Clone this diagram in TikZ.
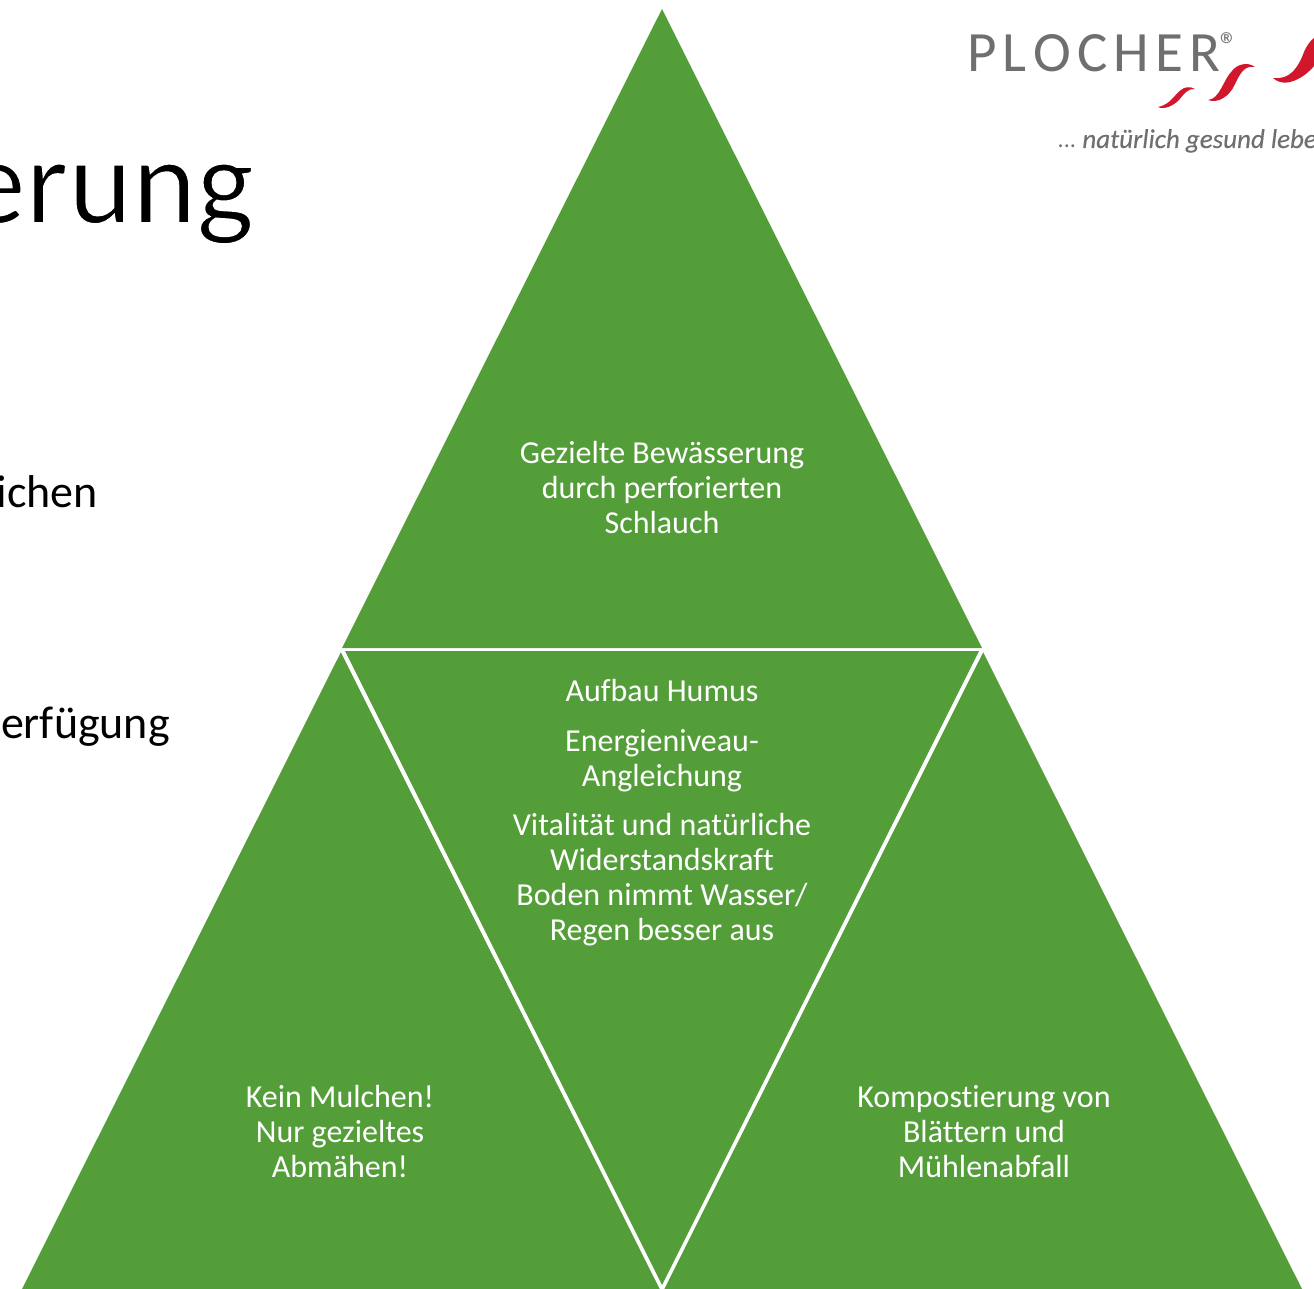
\documentclass[tikz,border=0pt]{standalone}
\usepackage{fontspec}
\setmainfont[Ligatures=CommonOff]{Carlito}
\definecolor{leaf}{HTML}{549E39}
\definecolor{logogray}{HTML}{6F6F6F}
\definecolor{logored}{HTML}{D2162B}
\begin{document}
\begin{tikzpicture}[x=1pt,y=-1pt,
  tri/.style={fill=leaf,draw=none},
  lab/.style={text=white,align=center,font=\fontsize{32}{35}\selectfont,inner sep=0pt},
  para/.style={text=black,anchor=base east,inner sep=0pt},
  swoosh/.style={fill=logored,draw=none}]
\useasboundingbox (0,0) rectangle (1314,1289);
\clip (0,0) rectangle (1314,1289);
% triangles
\fill[tri] (662,9) -- (982,648) -- (342,648) -- cycle;
\fill[tri] (341,652) -- (660,1289) -- (22,1289) -- cycle;
\fill[tri] (983,652) -- (1302,1289) -- (664,1289) -- cycle;
\fill[tri] (345,651) -- (979,651) -- (662,1285) -- cycle;
% background text
\node[para,font=\fontsize{122}{122}\selectfont] (title) at (254,223) {\special{pdf:code 2 Tr 1.6 w 1 1 1 RG}erung\special{pdf:code 0 Tr 0 w 0 0 0 RG}};
\node[para,font=\fontsize{46}{46}\selectfont] (t1) at (98,507) {ichen};
\node[para,font=\fontsize{46}{46}\selectfont] (t2) at (170,738) {erfügung};
% labels
\node[lab] (top) at (662,488) {Gezielte Bewässerung\\durch perforierten\\Schlauch};
\node[lab] (c1) at (662,691) {Aufbau Humus};
\node[lab] (c2) at (662,761) {Energieniveau-\\Angleichung};
\node[lab] (c3) at (662,880) {Vitalität und natürliche\\Widerstandskraft\\Boden nimmt Wasser/\\Regen besser aus};
\node[lab] (l) at (340,1131) {Kein Mulchen!\\Nur gezieltes\\Abmähen!};
\node[lab] (r) at (984,1132) {Kompostierung von\\Blättern und\\Mühlenabfall};
% logo
\node[text=logogray,anchor=base west,inner sep=0pt,font=\fontsize{57}{57}\selectfont] (plocher) at (967,72) {P\kern6.3pt L\kern6.3pt O\kern6.3pt C\kern6.3pt H\kern6.3pt E\kern6.3pt R};
\node[text=logogray,inner sep=0pt,font=\fontsize{36}{36}\selectfont] (reg) at (1229,45) {®};
\node[text=logogray,anchor=base west,inner sep=0pt,font=\itshape\fontsize{27}{27}\selectfont] (slogan) at (1058,148) {{\fontsize{24}{24}\selectfont ...}\kern6pt\addfontfeature{FakeBold=0.25}natürlich gesund leben};
\fill[swoosh] (1158,107) .. controls (1170,105) and (1175,94) .. (1181,90) .. controls (1184,87) and (1190,86) .. (1195,89) .. controls (1188,88) and (1184,94) .. (1179,100) .. controls (1173,106) and (1164,110) .. (1158,107) -- cycle;
\fill[swoosh] (1208,100) .. controls (1220,99) and (1223,80) .. (1232,71) .. controls (1236,65) and (1247,61) .. (1255,67) .. controls (1244,65) and (1240,74) .. (1235,84) .. controls (1230,96) and (1218,104) .. (1208,100) -- cycle;
\fill[swoosh] (1273,78) .. controls (1290,80) and (1298,68) .. (1304,52) .. controls (1307,45) and (1311,40) .. (1314,38) -- (1314,66) .. controls (1306,76) and (1286,90) .. (1273,78) -- cycle;
% white separators
\draw[white,line width=2.6pt] (341,650) -- (983,650);
\draw[white,line width=2pt] (341,650) -- (662,1291);
\draw[white,line width=2pt] (983,650) -- (662,1291);
\end{tikzpicture}
\end{document}
